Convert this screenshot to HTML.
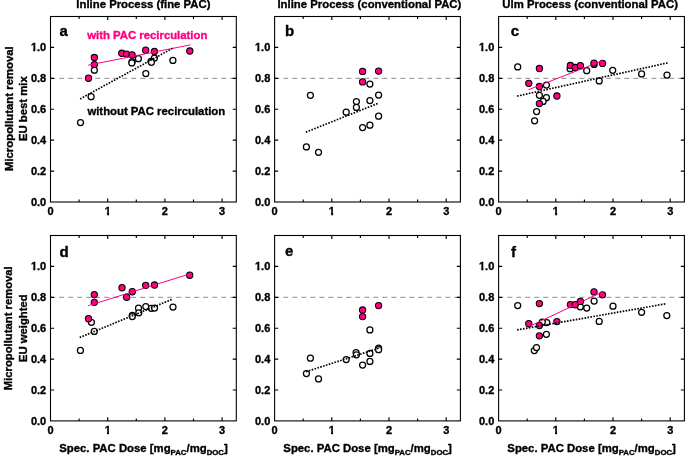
<!DOCTYPE html>
<html lang="en"><head><meta charset="utf-8"><title>Micropollutant removal vs. spec. PAC dose</title>
<style>html,body{margin:0;padding:0;background:#fff}body{width:685px;height:459px;overflow:hidden}svg{display:block}text{stroke:#000;stroke-width:.35px;stroke-linejoin:round}text.pk{stroke:#ff0080}</style>
</head><body>
<svg width="685" height="459" viewBox="0 0 685 459" font-family="'Liberation Sans', sans-serif" font-weight="bold" stroke="#000" stroke-width="0">
<rect width="685" height="459" fill="#fff"/>
<defs><clipPath id="c1"><path d="M-1 -12H8V-2.05H4.35V1H2.3V-2.05H-1Z"/></clipPath></defs>
<g id="panel-a">
<line x1="50.5" y1="78.33" x2="236.3" y2="78.33" stroke="#8c8c8c" stroke-width="1" stroke-dasharray="5 4" stroke-dashoffset="0.3"/>
<circle cx="94.35" cy="70.2" r="3.0" fill="#fff" stroke="#000" stroke-width="1.25"/>
<circle cx="132.1" cy="61.8" r="3.0" fill="#fff" stroke="#000" stroke-width="1.25"/>
<circle cx="131.8" cy="62.9" r="3.0" fill="#fff" stroke="#000" stroke-width="1.25"/>
<circle cx="138.4" cy="58.7" r="3.0" fill="#fff" stroke="#000" stroke-width="1.25"/>
<circle cx="154.4" cy="58" r="3.0" fill="#fff" stroke="#000" stroke-width="1.25"/>
<circle cx="151.0" cy="61.3" r="3.0" fill="#fff" stroke="#000" stroke-width="1.25"/>
<circle cx="151.4" cy="62.3" r="3.0" fill="#fff" stroke="#000" stroke-width="1.25"/>
<circle cx="172.9" cy="60.4" r="3.0" fill="#fff" stroke="#000" stroke-width="1.25"/>
<circle cx="145.8" cy="73.6" r="3.0" fill="#fff" stroke="#000" stroke-width="1.25"/>
<circle cx="91.1" cy="96.7" r="3.0" fill="#fff" stroke="#000" stroke-width="1.25"/>
<circle cx="80.5" cy="122.6" r="3.0" fill="#fff" stroke="#000" stroke-width="1.25"/>
<circle cx="94.35" cy="57.5" r="3.15" fill="#ff0080" stroke="#000" stroke-width="1.05"/>
<circle cx="94.35" cy="64.6" r="3.15" fill="#ff0080" stroke="#000" stroke-width="1.05"/>
<circle cx="88.5" cy="78.2" r="3.15" fill="#ff0080" stroke="#000" stroke-width="1.05"/>
<circle cx="121.8" cy="53.3" r="3.15" fill="#ff0080" stroke="#000" stroke-width="1.05"/>
<circle cx="126.6" cy="54.1" r="3.15" fill="#ff0080" stroke="#000" stroke-width="1.05"/>
<circle cx="132.1" cy="54.9" r="3.15" fill="#ff0080" stroke="#000" stroke-width="1.05"/>
<circle cx="145.7" cy="50.2" r="3.15" fill="#ff0080" stroke="#000" stroke-width="1.05"/>
<circle cx="154.4" cy="51.5" r="3.15" fill="#ff0080" stroke="#000" stroke-width="1.05"/>
<circle cx="189.8" cy="51.0" r="3.15" fill="#ff0080" stroke="#000" stroke-width="1.05"/>
<line x1="88.2" y1="65.2" x2="190.4" y2="44.85" stroke="#ff0080" stroke-width="1.0"/>
<line x1="80.1" y1="98.9" x2="172.5" y2="48.35" stroke="#000" stroke-width="1.7" stroke-dasharray="1.6 1.364"/>
<path d="M79.10 202.0v-2.4M79.10 16.5v2.4M107.70 202.0v-3.6M107.70 16.5v3.6M136.30 202.0v-2.4M136.30 16.5v2.4M164.90 202.0v-3.6M164.90 16.5v3.6M193.50 202.0v-2.4M193.50 16.5v2.4M222.10 202.0v-3.6M222.10 16.5v3.6M50.5 171.08h3.6M236.3 171.08h-3.6M50.5 140.17h3.6M236.3 140.17h-3.6M50.5 109.25h3.6M236.3 109.25h-3.6M50.5 78.33h3.6M236.3 78.33h-3.6M50.5 47.42h3.6M236.3 47.42h-3.6" stroke="#000" stroke-width="1.15" fill="none"/>
<rect x="50.5" y="16.5" width="185.8" height="185.50" fill="none" stroke="#000" stroke-width="1.1"/>
<text x="46.20" y="206.00" font-size="11.0" text-anchor="end">0.0</text>
<text x="46.20" y="175.08" font-size="11.0" text-anchor="end">0.2</text>
<text x="46.20" y="144.17" font-size="11.0" text-anchor="end">0.4</text>
<text x="46.20" y="113.25" font-size="11.0" text-anchor="end">0.6</text>
<text x="46.20" y="82.33" font-size="11.0" text-anchor="end">0.8</text>
<g transform="translate(30.91 51.42)" clip-path="url(#c1)"><text font-size="11.0">1</text></g>
<text x="46.20" y="51.42" font-size="11.0" text-anchor="end">.0</text>
<text x="50.50" y="215.20" font-size="11.0" text-anchor="middle">0</text>
<g transform="translate(104.64 215.20)" clip-path="url(#c1)"><text font-size="11.0">1</text></g>
<text x="164.90" y="215.20" font-size="11.0" text-anchor="middle">2</text>
<text x="222.10" y="215.20" font-size="11.0" text-anchor="middle">3</text>
<text x="59.50" y="36.20" font-size="15">a</text>
<text x="143.40" y="8.0" font-size="11.35" text-anchor="middle">Inline Process (fine PAC)</text>
<text transform="translate(12.5 108.65) rotate(-90)" font-size="11.35" text-anchor="middle">Micropollutant removal</text>
<text transform="translate(26.8 108.65) rotate(-90)" font-size="11.35" text-anchor="middle">EU best mix</text>
<text x="87.2" y="38.65" font-size="11.35" fill="#ff0080" class="pk">with PAC recirculation</text>
<text x="87.4" y="115.1" font-size="11.35">without PAC recirculation</text>
</g>
<g id="panel-b">
<line x1="274.6" y1="78.33" x2="460.40000000000003" y2="78.33" stroke="#8c8c8c" stroke-width="1" stroke-dasharray="5 4" stroke-dashoffset="0.3"/>
<circle cx="369.9" cy="84.1" r="3.0" fill="#fff" stroke="#000" stroke-width="1.25"/>
<circle cx="310.4" cy="95.3" r="3.0" fill="#fff" stroke="#000" stroke-width="1.25"/>
<circle cx="378.6" cy="95.0" r="3.0" fill="#fff" stroke="#000" stroke-width="1.25"/>
<circle cx="356.4" cy="101.6" r="3.0" fill="#fff" stroke="#000" stroke-width="1.25"/>
<circle cx="369.9" cy="100.6" r="3.0" fill="#fff" stroke="#000" stroke-width="1.25"/>
<circle cx="356.4" cy="107.4" r="3.0" fill="#fff" stroke="#000" stroke-width="1.25"/>
<circle cx="346.2" cy="112.2" r="3.0" fill="#fff" stroke="#000" stroke-width="1.25"/>
<circle cx="378.6" cy="116.2" r="3.0" fill="#fff" stroke="#000" stroke-width="1.25"/>
<circle cx="369.9" cy="125.2" r="3.0" fill="#fff" stroke="#000" stroke-width="1.25"/>
<circle cx="362.6" cy="127.6" r="3.0" fill="#fff" stroke="#000" stroke-width="1.25"/>
<circle cx="306.4" cy="146.9" r="3.0" fill="#fff" stroke="#000" stroke-width="1.25"/>
<circle cx="318.5" cy="152.3" r="3.0" fill="#fff" stroke="#000" stroke-width="1.25"/>
<circle cx="362.6" cy="71.4" r="3.15" fill="#ff0080" stroke="#000" stroke-width="1.05"/>
<circle cx="378.6" cy="71.1" r="3.15" fill="#ff0080" stroke="#000" stroke-width="1.05"/>
<circle cx="362.6" cy="81.9" r="3.15" fill="#ff0080" stroke="#000" stroke-width="1.05"/>
<line x1="305.8" y1="132.2" x2="377.6" y2="103.5" stroke="#000" stroke-width="1.7" stroke-dasharray="1.6 1.429"/>
<path d="M303.20 202.0v-2.4M303.20 16.5v2.4M331.80 202.0v-3.6M331.80 16.5v3.6M360.40 202.0v-2.4M360.40 16.5v2.4M389.00 202.0v-3.6M389.00 16.5v3.6M417.60 202.0v-2.4M417.60 16.5v2.4M446.20 202.0v-3.6M446.20 16.5v3.6M274.6 171.08h3.6M460.40000000000003 171.08h-3.6M274.6 140.17h3.6M460.40000000000003 140.17h-3.6M274.6 109.25h3.6M460.40000000000003 109.25h-3.6M274.6 78.33h3.6M460.40000000000003 78.33h-3.6M274.6 47.42h3.6M460.40000000000003 47.42h-3.6" stroke="#000" stroke-width="1.15" fill="none"/>
<rect x="274.6" y="16.5" width="185.8" height="185.50" fill="none" stroke="#000" stroke-width="1.1"/>
<text x="270.30" y="206.00" font-size="11.0" text-anchor="end">0.0</text>
<text x="270.30" y="175.08" font-size="11.0" text-anchor="end">0.2</text>
<text x="270.30" y="144.17" font-size="11.0" text-anchor="end">0.4</text>
<text x="270.30" y="113.25" font-size="11.0" text-anchor="end">0.6</text>
<text x="270.30" y="82.33" font-size="11.0" text-anchor="end">0.8</text>
<g transform="translate(255.01 51.42)" clip-path="url(#c1)"><text font-size="11.0">1</text></g>
<text x="270.30" y="51.42" font-size="11.0" text-anchor="end">.0</text>
<text x="274.60" y="215.20" font-size="11.0" text-anchor="middle">0</text>
<g transform="translate(328.74 215.20)" clip-path="url(#c1)"><text font-size="11.0">1</text></g>
<text x="389.00" y="215.20" font-size="11.0" text-anchor="middle">2</text>
<text x="446.20" y="215.20" font-size="11.0" text-anchor="middle">3</text>
<text x="285.10" y="36.20" font-size="15">b</text>
<text x="369.40" y="8.0" font-size="11.35" text-anchor="middle">Inline Process (conventional PAC)</text>
</g>
<g id="panel-c">
<line x1="498.6" y1="78.33" x2="684.4000000000001" y2="78.33" stroke="#8c8c8c" stroke-width="1" stroke-dasharray="5 4" stroke-dashoffset="0.3"/>
<circle cx="517.7" cy="66.9" r="3.0" fill="#fff" stroke="#000" stroke-width="1.25"/>
<circle cx="546.4" cy="85.0" r="3.0" fill="#fff" stroke="#000" stroke-width="1.25"/>
<circle cx="539.4" cy="95.3" r="3.0" fill="#fff" stroke="#000" stroke-width="1.25"/>
<circle cx="546.4" cy="97.7" r="3.0" fill="#fff" stroke="#000" stroke-width="1.25"/>
<circle cx="543.1" cy="101.4" r="3.0" fill="#fff" stroke="#000" stroke-width="1.25"/>
<circle cx="536.6" cy="111.6" r="3.0" fill="#fff" stroke="#000" stroke-width="1.25"/>
<circle cx="534.6" cy="120.8" r="3.0" fill="#fff" stroke="#000" stroke-width="1.25"/>
<circle cx="570.1" cy="68.7" r="3.0" fill="#fff" stroke="#000" stroke-width="1.25"/>
<circle cx="586.7" cy="70.7" r="3.0" fill="#fff" stroke="#000" stroke-width="1.25"/>
<circle cx="594.1" cy="64.4" r="3.0" fill="#fff" stroke="#000" stroke-width="1.25"/>
<circle cx="599.2" cy="80.9" r="3.0" fill="#fff" stroke="#000" stroke-width="1.25"/>
<circle cx="612.7" cy="70.3" r="3.0" fill="#fff" stroke="#000" stroke-width="1.25"/>
<circle cx="641.6" cy="73.9" r="3.0" fill="#fff" stroke="#000" stroke-width="1.25"/>
<circle cx="667.0" cy="75.0" r="3.0" fill="#fff" stroke="#000" stroke-width="1.25"/>
<circle cx="539.4" cy="68.5" r="3.15" fill="#ff0080" stroke="#000" stroke-width="1.05"/>
<circle cx="528.8" cy="83.3" r="3.15" fill="#ff0080" stroke="#000" stroke-width="1.05"/>
<circle cx="539.4" cy="86.5" r="3.15" fill="#ff0080" stroke="#000" stroke-width="1.05"/>
<circle cx="539.4" cy="103.6" r="3.15" fill="#ff0080" stroke="#000" stroke-width="1.05"/>
<circle cx="556.9" cy="96.0" r="3.15" fill="#ff0080" stroke="#000" stroke-width="1.05"/>
<circle cx="570.4" cy="65.5" r="3.15" fill="#ff0080" stroke="#000" stroke-width="1.05"/>
<circle cx="575.2" cy="67.5" r="3.15" fill="#ff0080" stroke="#000" stroke-width="1.05"/>
<circle cx="580.4" cy="65.7" r="3.15" fill="#ff0080" stroke="#000" stroke-width="1.05"/>
<circle cx="594.0" cy="63.1" r="3.15" fill="#ff0080" stroke="#000" stroke-width="1.05"/>
<circle cx="602.5" cy="63.4" r="3.15" fill="#ff0080" stroke="#000" stroke-width="1.05"/>
<line x1="528.5" y1="89.7" x2="602.8" y2="60.7" stroke="#ff0080" stroke-width="1.0"/>
<line x1="517.1" y1="96.1" x2="667.5" y2="62.9" stroke="#000" stroke-width="1.7" stroke-dasharray="1.6 1.389"/>
<path d="M527.20 202.0v-2.4M527.20 16.5v2.4M555.80 202.0v-3.6M555.80 16.5v3.6M584.40 202.0v-2.4M584.40 16.5v2.4M613.00 202.0v-3.6M613.00 16.5v3.6M641.60 202.0v-2.4M641.60 16.5v2.4M670.20 202.0v-3.6M670.20 16.5v3.6M498.6 171.08h3.6M684.4000000000001 171.08h-3.6M498.6 140.17h3.6M684.4000000000001 140.17h-3.6M498.6 109.25h3.6M684.4000000000001 109.25h-3.6M498.6 78.33h3.6M684.4000000000001 78.33h-3.6M498.6 47.42h3.6M684.4000000000001 47.42h-3.6" stroke="#000" stroke-width="1.15" fill="none"/>
<rect x="498.6" y="16.5" width="185.8" height="185.50" fill="none" stroke="#000" stroke-width="1.1"/>
<text x="494.30" y="206.00" font-size="11.0" text-anchor="end">0.0</text>
<text x="494.30" y="175.08" font-size="11.0" text-anchor="end">0.2</text>
<text x="494.30" y="144.17" font-size="11.0" text-anchor="end">0.4</text>
<text x="494.30" y="113.25" font-size="11.0" text-anchor="end">0.6</text>
<text x="494.30" y="82.33" font-size="11.0" text-anchor="end">0.8</text>
<g transform="translate(479.01 51.42)" clip-path="url(#c1)"><text font-size="11.0">1</text></g>
<text x="494.30" y="51.42" font-size="11.0" text-anchor="end">.0</text>
<text x="498.60" y="215.20" font-size="11.0" text-anchor="middle">0</text>
<g transform="translate(552.74 215.20)" clip-path="url(#c1)"><text font-size="11.0">1</text></g>
<text x="613.00" y="215.20" font-size="11.0" text-anchor="middle">2</text>
<text x="670.20" y="215.20" font-size="11.0" text-anchor="middle">3</text>
<text x="510.70" y="36.20" font-size="15">c</text>
<text x="590.15" y="8.0" font-size="11.35" text-anchor="middle">Ulm Process (conventional PAC)</text>
</g>
<g id="panel-d">
<line x1="50.5" y1="297.30" x2="236.3" y2="297.30" stroke="#8c8c8c" stroke-width="1" stroke-dasharray="5 4" stroke-dashoffset="0.3"/>
<circle cx="91.4" cy="322.3" r="3.0" fill="#fff" stroke="#000" stroke-width="1.25"/>
<circle cx="132.3" cy="315.3" r="3.0" fill="#fff" stroke="#000" stroke-width="1.25"/>
<circle cx="132.3" cy="316.5" r="3.0" fill="#fff" stroke="#000" stroke-width="1.25"/>
<circle cx="138.5" cy="308.2" r="3.0" fill="#fff" stroke="#000" stroke-width="1.25"/>
<circle cx="138.8" cy="312.8" r="3.0" fill="#fff" stroke="#000" stroke-width="1.25"/>
<circle cx="145.8" cy="306.6" r="3.0" fill="#fff" stroke="#000" stroke-width="1.25"/>
<circle cx="151.3" cy="308.3" r="3.0" fill="#fff" stroke="#000" stroke-width="1.25"/>
<circle cx="154.5" cy="308.1" r="3.0" fill="#fff" stroke="#000" stroke-width="1.25"/>
<circle cx="173.0" cy="307.0" r="3.0" fill="#fff" stroke="#000" stroke-width="1.25"/>
<circle cx="94.3" cy="331.4" r="3.0" fill="#fff" stroke="#000" stroke-width="1.25"/>
<circle cx="80.4" cy="350.4" r="3.0" fill="#fff" stroke="#000" stroke-width="1.25"/>
<circle cx="94.3" cy="294.6" r="3.15" fill="#ff0080" stroke="#000" stroke-width="1.05"/>
<circle cx="94.3" cy="302.3" r="3.15" fill="#ff0080" stroke="#000" stroke-width="1.05"/>
<circle cx="88.5" cy="318.7" r="3.15" fill="#ff0080" stroke="#000" stroke-width="1.05"/>
<circle cx="122.0" cy="287.7" r="3.15" fill="#ff0080" stroke="#000" stroke-width="1.05"/>
<circle cx="126.7" cy="297.2" r="3.15" fill="#ff0080" stroke="#000" stroke-width="1.05"/>
<circle cx="132.3" cy="291.7" r="3.15" fill="#ff0080" stroke="#000" stroke-width="1.05"/>
<circle cx="145.7" cy="285.3" r="3.15" fill="#ff0080" stroke="#000" stroke-width="1.05"/>
<circle cx="154.5" cy="285.0" r="3.15" fill="#ff0080" stroke="#000" stroke-width="1.05"/>
<circle cx="189.7" cy="275.2" r="3.15" fill="#ff0080" stroke="#000" stroke-width="1.05"/>
<line x1="88.2" y1="305.7" x2="190.0" y2="273.8" stroke="#ff0080" stroke-width="1.0"/>
<line x1="79.7" y1="337.5" x2="171.6" y2="299.5" stroke="#000" stroke-width="1.7" stroke-dasharray="1.6 1.365"/>
<path d="M79.10 420.9v-2.4M79.10 235.5v2.4M107.70 420.9v-3.6M107.70 235.5v3.6M136.30 420.9v-2.4M136.30 235.5v2.4M164.90 420.9v-3.6M164.90 235.5v3.6M193.50 420.9v-2.4M193.50 235.5v2.4M222.10 420.9v-3.6M222.10 235.5v3.6M50.5 390.00h3.6M236.3 390.00h-3.6M50.5 359.10h3.6M236.3 359.10h-3.6M50.5 328.20h3.6M236.3 328.20h-3.6M50.5 297.30h3.6M236.3 297.30h-3.6M50.5 266.40h3.6M236.3 266.40h-3.6" stroke="#000" stroke-width="1.15" fill="none"/>
<rect x="50.5" y="235.5" width="185.8" height="185.40" fill="none" stroke="#000" stroke-width="1.1"/>
<text x="46.20" y="424.90" font-size="11.0" text-anchor="end">0.0</text>
<text x="46.20" y="394.00" font-size="11.0" text-anchor="end">0.2</text>
<text x="46.20" y="363.10" font-size="11.0" text-anchor="end">0.4</text>
<text x="46.20" y="332.20" font-size="11.0" text-anchor="end">0.6</text>
<text x="46.20" y="301.30" font-size="11.0" text-anchor="end">0.8</text>
<g transform="translate(30.91 270.40)" clip-path="url(#c1)"><text font-size="11.0">1</text></g>
<text x="46.20" y="270.40" font-size="11.0" text-anchor="end">.0</text>
<text x="50.50" y="433.70" font-size="11.0" text-anchor="middle">0</text>
<g transform="translate(104.64 433.70)" clip-path="url(#c1)"><text font-size="11.0">1</text></g>
<text x="164.90" y="433.70" font-size="11.0" text-anchor="middle">2</text>
<text x="222.10" y="433.70" font-size="11.0" text-anchor="middle">3</text>
<text x="59.50" y="257.40" font-size="15">d</text>
<text x="143.50" y="452.10" font-size="11.35" text-anchor="middle">Spec. PAC Dose [mg<tspan font-size="7.8" dy="2.7">PAC</tspan><tspan dy="-2.7">/mg</tspan><tspan font-size="7.8" dy="2.7">DOC</tspan><tspan dy="-2.7">]</tspan></text>
<text transform="translate(11.6 328.25) rotate(-90)" font-size="11.27" text-anchor="middle">Micropollutant removal</text>
<text transform="translate(26.8 328.25) rotate(-90)" font-size="11.27" text-anchor="middle">EU weighted</text>
</g>
<g id="panel-e">
<line x1="274.6" y1="297.30" x2="460.40000000000003" y2="297.30" stroke="#8c8c8c" stroke-width="1" stroke-dasharray="5 4" stroke-dashoffset="0.3"/>
<circle cx="369.9" cy="329.9" r="3.0" fill="#fff" stroke="#000" stroke-width="1.25"/>
<circle cx="310.4" cy="358.2" r="3.0" fill="#fff" stroke="#000" stroke-width="1.25"/>
<circle cx="306.4" cy="373.5" r="3.0" fill="#fff" stroke="#000" stroke-width="1.25"/>
<circle cx="318.5" cy="378.9" r="3.0" fill="#fff" stroke="#000" stroke-width="1.25"/>
<circle cx="346.2" cy="359.6" r="3.0" fill="#fff" stroke="#000" stroke-width="1.25"/>
<circle cx="356.1" cy="352.6" r="3.0" fill="#fff" stroke="#000" stroke-width="1.25"/>
<circle cx="356.4" cy="354.8" r="3.0" fill="#fff" stroke="#000" stroke-width="1.25"/>
<circle cx="369.9" cy="353.4" r="3.0" fill="#fff" stroke="#000" stroke-width="1.25"/>
<circle cx="378.6" cy="348.0" r="3.0" fill="#fff" stroke="#000" stroke-width="1.25"/>
<circle cx="378.6" cy="349.7" r="3.0" fill="#fff" stroke="#000" stroke-width="1.25"/>
<circle cx="362.6" cy="365.0" r="3.0" fill="#fff" stroke="#000" stroke-width="1.25"/>
<circle cx="369.9" cy="361.4" r="3.0" fill="#fff" stroke="#000" stroke-width="1.25"/>
<circle cx="378.6" cy="305.6" r="3.15" fill="#ff0080" stroke="#000" stroke-width="1.05"/>
<circle cx="362.6" cy="310.0" r="3.15" fill="#ff0080" stroke="#000" stroke-width="1.05"/>
<circle cx="362.6" cy="316.6" r="3.15" fill="#ff0080" stroke="#000" stroke-width="1.05"/>
<line x1="306.0" y1="371.7" x2="378.6" y2="348.3" stroke="#000" stroke-width="1.7" stroke-dasharray="1.6 1.387"/>
<path d="M303.20 420.9v-2.4M303.20 235.5v2.4M331.80 420.9v-3.6M331.80 235.5v3.6M360.40 420.9v-2.4M360.40 235.5v2.4M389.00 420.9v-3.6M389.00 235.5v3.6M417.60 420.9v-2.4M417.60 235.5v2.4M446.20 420.9v-3.6M446.20 235.5v3.6M274.6 390.00h3.6M460.40000000000003 390.00h-3.6M274.6 359.10h3.6M460.40000000000003 359.10h-3.6M274.6 328.20h3.6M460.40000000000003 328.20h-3.6M274.6 297.30h3.6M460.40000000000003 297.30h-3.6M274.6 266.40h3.6M460.40000000000003 266.40h-3.6" stroke="#000" stroke-width="1.15" fill="none"/>
<rect x="274.6" y="235.5" width="185.8" height="185.40" fill="none" stroke="#000" stroke-width="1.1"/>
<text x="270.30" y="424.90" font-size="11.0" text-anchor="end">0.0</text>
<text x="270.30" y="394.00" font-size="11.0" text-anchor="end">0.2</text>
<text x="270.30" y="363.10" font-size="11.0" text-anchor="end">0.4</text>
<text x="270.30" y="332.20" font-size="11.0" text-anchor="end">0.6</text>
<text x="270.30" y="301.30" font-size="11.0" text-anchor="end">0.8</text>
<g transform="translate(255.01 270.40)" clip-path="url(#c1)"><text font-size="11.0">1</text></g>
<text x="270.30" y="270.40" font-size="11.0" text-anchor="end">.0</text>
<text x="274.60" y="433.70" font-size="11.0" text-anchor="middle">0</text>
<g transform="translate(328.74 433.70)" clip-path="url(#c1)"><text font-size="11.0">1</text></g>
<text x="389.00" y="433.70" font-size="11.0" text-anchor="middle">2</text>
<text x="446.20" y="433.70" font-size="11.0" text-anchor="middle">3</text>
<text x="284.90" y="256.25" font-size="15">e</text>
<text x="367.60" y="452.10" font-size="11.35" text-anchor="middle">Spec. PAC Dose [mg<tspan font-size="7.8" dy="2.7">PAC</tspan><tspan dy="-2.7">/mg</tspan><tspan font-size="7.8" dy="2.7">DOC</tspan><tspan dy="-2.7">]</tspan></text>
</g>
<g id="panel-f">
<line x1="498.6" y1="297.30" x2="684.4000000000001" y2="297.30" stroke="#8c8c8c" stroke-width="1" stroke-dasharray="5 4" stroke-dashoffset="0.3"/>
<circle cx="517.7" cy="305.5" r="3.0" fill="#fff" stroke="#000" stroke-width="1.25"/>
<circle cx="546.8" cy="322.6" r="3.0" fill="#fff" stroke="#000" stroke-width="1.25"/>
<circle cx="542.3" cy="322.1" r="3.0" fill="#fff" stroke="#000" stroke-width="1.25"/>
<circle cx="546.4" cy="334.3" r="3.0" fill="#fff" stroke="#000" stroke-width="1.25"/>
<circle cx="534.3" cy="350.6" r="3.0" fill="#fff" stroke="#000" stroke-width="1.25"/>
<circle cx="536.5" cy="347.5" r="3.0" fill="#fff" stroke="#000" stroke-width="1.25"/>
<circle cx="580.3" cy="306.8" r="3.0" fill="#fff" stroke="#000" stroke-width="1.25"/>
<circle cx="586.7" cy="308.0" r="3.0" fill="#fff" stroke="#000" stroke-width="1.25"/>
<circle cx="594.1" cy="301.0" r="3.0" fill="#fff" stroke="#000" stroke-width="1.25"/>
<circle cx="599.2" cy="321.4" r="3.0" fill="#fff" stroke="#000" stroke-width="1.25"/>
<circle cx="613.0" cy="306.2" r="3.0" fill="#fff" stroke="#000" stroke-width="1.25"/>
<circle cx="641.6" cy="312.3" r="3.0" fill="#fff" stroke="#000" stroke-width="1.25"/>
<circle cx="666.8" cy="315.5" r="3.0" fill="#fff" stroke="#000" stroke-width="1.25"/>
<circle cx="539.4" cy="303.6" r="3.15" fill="#ff0080" stroke="#000" stroke-width="1.05"/>
<circle cx="528.8" cy="323.7" r="3.15" fill="#ff0080" stroke="#000" stroke-width="1.05"/>
<circle cx="539.4" cy="325.5" r="3.15" fill="#ff0080" stroke="#000" stroke-width="1.05"/>
<circle cx="556.9" cy="321.6" r="3.15" fill="#ff0080" stroke="#000" stroke-width="1.05"/>
<circle cx="539.4" cy="335.8" r="3.15" fill="#ff0080" stroke="#000" stroke-width="1.05"/>
<circle cx="570.4" cy="304.6" r="3.15" fill="#ff0080" stroke="#000" stroke-width="1.05"/>
<circle cx="575.2" cy="304.7" r="3.15" fill="#ff0080" stroke="#000" stroke-width="1.05"/>
<circle cx="580.4" cy="301.4" r="3.15" fill="#ff0080" stroke="#000" stroke-width="1.05"/>
<circle cx="594.0" cy="291.9" r="3.15" fill="#ff0080" stroke="#000" stroke-width="1.05"/>
<circle cx="602.5" cy="294.8" r="3.15" fill="#ff0080" stroke="#000" stroke-width="1.05"/>
<line x1="529.9" y1="326.2" x2="603.0" y2="291.65" stroke="#ff0080" stroke-width="1.0"/>
<line x1="517.1" y1="329.9" x2="665.3" y2="303.9" stroke="#000" stroke-width="1.7" stroke-dasharray="1.6 1.377"/>
<path d="M527.20 420.9v-2.4M527.20 235.5v2.4M555.80 420.9v-3.6M555.80 235.5v3.6M584.40 420.9v-2.4M584.40 235.5v2.4M613.00 420.9v-3.6M613.00 235.5v3.6M641.60 420.9v-2.4M641.60 235.5v2.4M670.20 420.9v-3.6M670.20 235.5v3.6M498.6 390.00h3.6M684.4000000000001 390.00h-3.6M498.6 359.10h3.6M684.4000000000001 359.10h-3.6M498.6 328.20h3.6M684.4000000000001 328.20h-3.6M498.6 297.30h3.6M684.4000000000001 297.30h-3.6M498.6 266.40h3.6M684.4000000000001 266.40h-3.6" stroke="#000" stroke-width="1.15" fill="none"/>
<rect x="498.6" y="235.5" width="185.8" height="185.40" fill="none" stroke="#000" stroke-width="1.1"/>
<text x="494.30" y="424.90" font-size="11.0" text-anchor="end">0.0</text>
<text x="494.30" y="394.00" font-size="11.0" text-anchor="end">0.2</text>
<text x="494.30" y="363.10" font-size="11.0" text-anchor="end">0.4</text>
<text x="494.30" y="332.20" font-size="11.0" text-anchor="end">0.6</text>
<text x="494.30" y="301.30" font-size="11.0" text-anchor="end">0.8</text>
<g transform="translate(479.01 270.40)" clip-path="url(#c1)"><text font-size="11.0">1</text></g>
<text x="494.30" y="270.40" font-size="11.0" text-anchor="end">.0</text>
<text x="498.60" y="433.70" font-size="11.0" text-anchor="middle">0</text>
<g transform="translate(552.74 433.70)" clip-path="url(#c1)"><text font-size="11.0">1</text></g>
<text x="613.00" y="433.70" font-size="11.0" text-anchor="middle">2</text>
<text x="670.20" y="433.70" font-size="11.0" text-anchor="middle">3</text>
<text x="511.00" y="257.40" font-size="15">f</text>
<text x="591.60" y="452.10" font-size="11.35" text-anchor="middle">Spec. PAC Dose [mg<tspan font-size="7.8" dy="2.7">PAC</tspan><tspan dy="-2.7">/mg</tspan><tspan font-size="7.8" dy="2.7">DOC</tspan><tspan dy="-2.7">]</tspan></text>
</g>
</svg>
</body></html>
